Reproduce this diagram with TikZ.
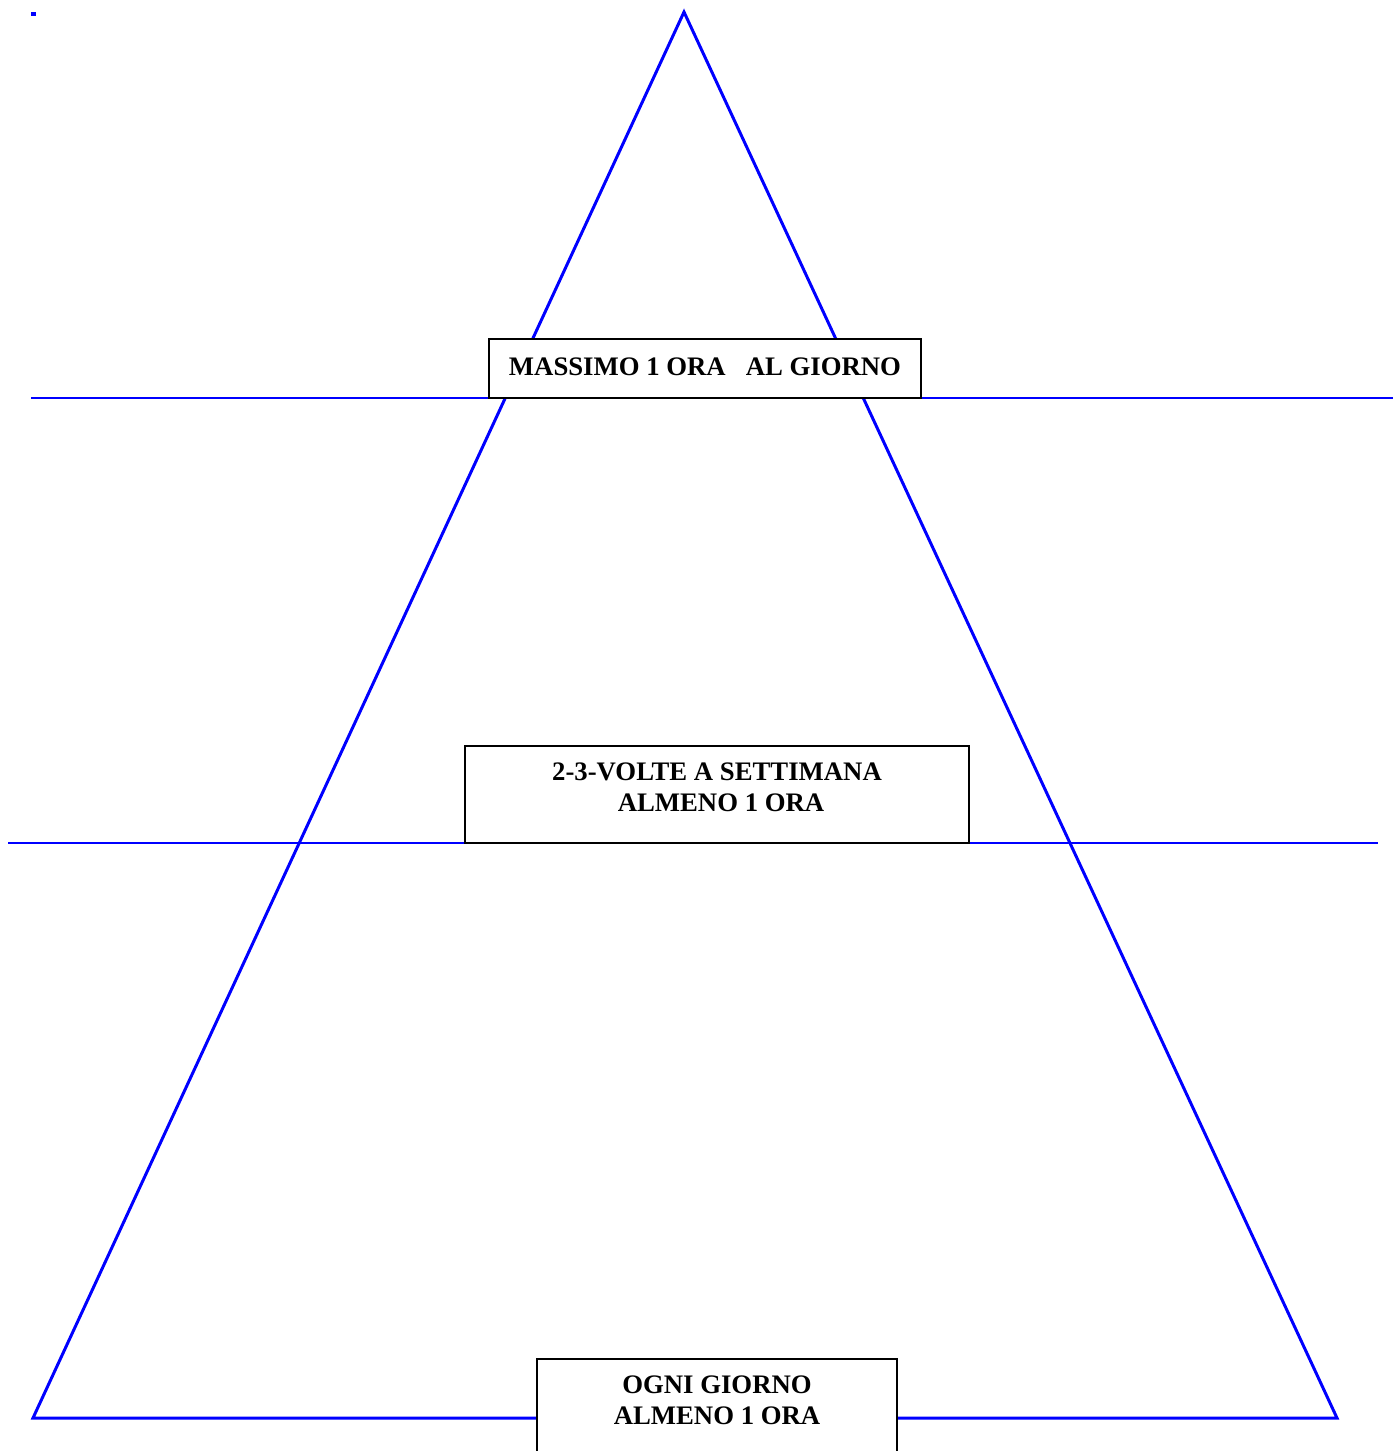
\documentclass[tikz,border=0pt]{standalone}
\usepackage{fontspec}
\setmainfont{Liberation Serif}
\usetikzlibrary{calc}

\tikzset{
  edge/.style={draw=blue,line width=0.85pt},
  rule/.style={draw=blue,line width=0.45pt},
  panel/.style={draw=black,line width=0.6pt,fill=white,inner sep=0pt},
  caption/.style={font=\fontsize{7.6}{8.8}\selectfont\bfseries,align=center,inner sep=0pt}
}

\begin{document}
\begin{tikzpicture}[x=0.01cm,y=-0.01cm]
  \useasboundingbox (0,0) rectangle (1393,1451);

  \coordinate (A) at (684,12);
  \coordinate (B) at (33,1418);
  \coordinate (C) at (1337,1418);

  \path[edge] (A) -- (B) -- (C) -- cycle;
  \path[fill=blue] (31,12) rectangle (36,16);

  \coordinate (L1) at (31,398);
  \coordinate (R1) at (1393,398);
  \coordinate (L2) at (8,843);
  \coordinate (R2) at (1378,843);
  \path[rule] (L1) -- (R1);
  \path[rule] (L2) -- (R2);

  \node[panel,minimum width=4.32cm,minimum height=0.59cm] (top) at (705,368.5) {};
  \node[caption] (toptext) at (705,367) {MASSIMO 1 ORA\ \ \ AL GIORNO};

  \node[panel,minimum width=5.04cm,minimum height=0.97cm] (mid) at (717,794.5) {};
  \node[caption] (midtext) at (717,787) {2-3-VOLTE A SETTIMANA\\ \hspace*{0.08cm}ALMENO 1 ORA};

  \node[panel,minimum width=3.60cm,minimum height=1.20cm] (base) at (717,1419) {};
  \node[caption] (basetext) at (717,1400) {OGNI GIORNO\\ ALMENO 1 ORA};
\end{tikzpicture}
\end{document}
